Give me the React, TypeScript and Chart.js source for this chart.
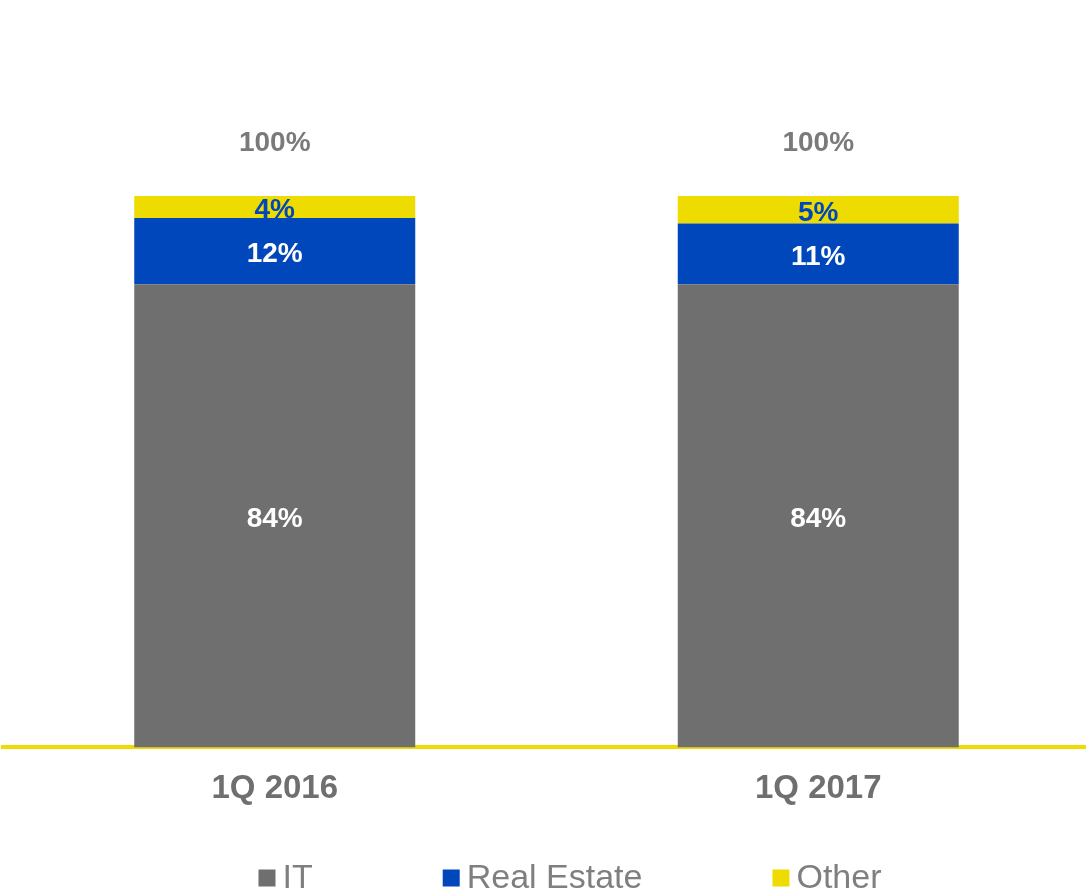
import React, { useEffect, useRef } from "react";
import { Chart, registerables } from "chart.js";

Chart.register(...registerables);

const categories = ["1Q 2016", "1Q 2017"];
const seriesNames = ["IT", "Real Estate", "Other"];
const itValues = [84, 84];
const realEstateValues = [12, 11];
const otherValues = [4, 5];
const seriesColors = ["#6f6f6f", "#0047bb", "#eedc00"];
const labelColors = ["#ffffff", "#ffffff", "#0047bb"];

const FONT = "'Liberation Sans', Arial, sans-serif";

const labelPlugin = {
  id: "segLabels",
  afterDatasetsDraw(chart: any) {
    const ctx = chart.ctx;
    ctx.save();
    ctx.textAlign = "center";
    ctx.textBaseline = "middle";
    ctx.font = `bold 28px ${FONT}`;
    chart.data.datasets.forEach((ds: any, di: number) => {
      const meta = chart.getDatasetMeta(di);
      meta.data.forEach((el: any, i: number) => {
        const v = ds.data[i];
        ctx.fillStyle = labelColors[di];
        ctx.fillText(`${v}%`, el.x, (el.y + el.base) / 2 + 3);
      });
    });
    // totals
    const lastMeta = chart.getDatasetMeta(chart.data.datasets.length - 1);
    ctx.fillStyle = "#7a7a7a";
    ctx.font = `bold 28px ${FONT}`;
    lastMeta.data.forEach((el: any, i: number) => {
      const total = chart.data.datasets.reduce((s: number, d: any) => s + d.data[i], 0);
      ctx.fillText(`${total}%`, el.x, el.y - 53);
    });
    // legend
    ctx.font = `34px ${FONT}`;
    ctx.textAlign = "left";
    const box = 17;
    const gapText = 7;
    const gapItem = 130;
    const widths = chart.data.datasets.map(
      (d: any) => box + gapText + ctx.measureText(d.label).width
    );
    const total = widths.reduce((a: number, b: number) => a + b, 0) + gapItem * (widths.length - 1);
    let x = 570 - total / 2;
    const yc = 878;
    chart.data.datasets.forEach((d: any, di: number) => {
      ctx.fillStyle = d.backgroundColor;
      ctx.fillRect(x, yc - box / 2, box, box);
      ctx.fillStyle = "#7f7f7f";
      ctx.fillText(d.label, x + box + gapText, yc + 1);
      x += widths[di] + gapItem;
    });
    ctx.restore();
  },
};

export default function App() {
  const ref = useRef<HTMLCanvasElement>(null);
  useEffect(() => {
    if (!ref.current) return;
    const seriesData = [itValues, realEstateValues, otherValues];
    const chart = new Chart(ref.current, {
      type: "bar",
      data: {
        labels: categories,
        datasets: seriesNames.map((name, i) => ({
          label: name,
          data: seriesData[i],
          backgroundColor: seriesColors[i],
          borderWidth: 0,
          categoryPercentage: 1,
          barPercentage: 0.517,
        })),
      },
      options: {
        responsive: false,
        animation: false,
        layout: { padding: { top: 196, left: 3, right: 2, bottom: 63 } },
        plugins: { legend: { display: false }, tooltip: { enabled: false } },
        scales: {
          x: {
            stacked: true,
            grid: { display: false, drawTicks: false },
            border: { display: true, color: "#eedc00", width: 4 },
            ticks: {
              color: "#6f6f6f",
              font: { family: FONT, size: 33, weight: "bold" },
              padding: 22,
            },
          },
          y: {
            stacked: true,
            display: false,
            min: 0,
            max: 100,
          },
        },
      },
      plugins: [labelPlugin],
    });
    return () => chart.destroy();
  }, []);
  return (
    <div
      style={{
        position: "absolute",
        left: 0,
        top: 0,
        width: 1086,
        height: 894,
        overflow: "hidden",
        background: "#ffffff",
      }}
    >
      <canvas ref={ref} width={1092} height={894} />
    </div>
  );
}
